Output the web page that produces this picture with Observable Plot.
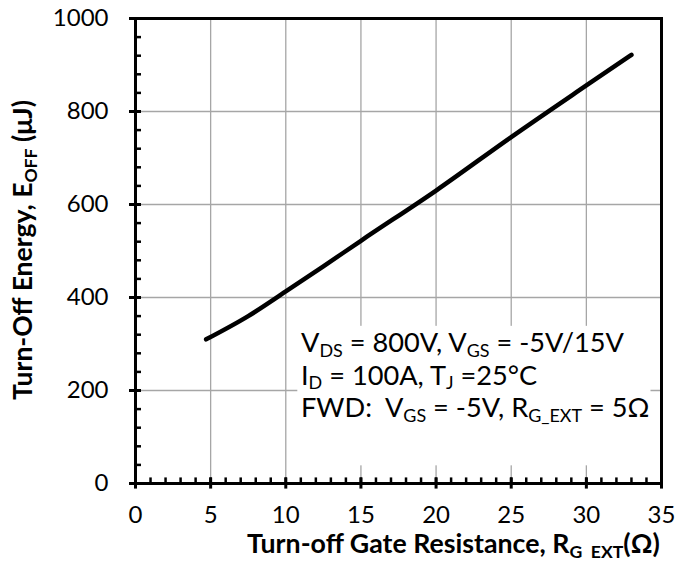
<!DOCTYPE html>
<html><head><meta charset="utf-8">
<script src="https://cdn.jsdelivr.net/npm/d3@7"></script>
<script src="https://cdn.jsdelivr.net/npm/@observablehq/plot@0.6"></script>
<style>
body{margin:0;background:#fff}
svg{font-family:Lato,"Open Sans",sans-serif}
</style>
</head><body><div id="chart"></div>
<script>
// Data
const rg = [4.7, 7.5, 10, 12.5, 15, 20, 25, 30, 33];
const eoff = [310, 360, 413, 467, 522, 630, 745, 856, 922];
const xTicks = [0, 5, 10, 15, 20, 25, 30, 35];
const yTicks = [0, 200, 400, 600, 800, 1000];
const xMinor = d3.range(0, 36, 1);
const yMinor = d3.range(0, 1001, 40);
const legendBox = [{x1: 10.8, x2: 34.3, y1: 38, y2: 338}];

const data = rg.map((r, i) => ({r, e: eoff[i]}));

const chart = Plot.plot({
  width: 694, height: 569,
  marginLeft: 135, marginRight: 33, marginTop: 18, marginBottom: 86,
  style: {fontFamily: "Lato, sans-serif", fontSize: "24px", color: "black", background: "white"},
  x: {domain: [0, 35]},
  y: {domain: [0, 1000]},
  marks: [
    Plot.ruleX(xTicks.slice(1, -1), {stroke: "#a6a6a6", strokeWidth: 1.3}),
    Plot.ruleY(yTicks.slice(1, -1), {stroke: "#a6a6a6", strokeWidth: 1.3}),
    Plot.rect(legendBox, {x1: "x1", x2: "x2", y1: "y1", y2: "y2", fill: "white"}),
    Plot.line(data, {x: "r", y: "e", curve: "monotone-x", stroke: "black", strokeWidth: 4.5, strokeLinecap: "round"}),
    Plot.ruleX(xMinor, {y1: 0, y2: 12, stroke: "black", strokeWidth: 2.5}),
    Plot.ruleY(yMinor, {x1: 0, x2: 0.4, stroke: "black", strokeWidth: 2.5}),
    Plot.ruleX(xTicks, {y1: -12, y2: 12, stroke: "black", strokeWidth: 3}),
    Plot.ruleY(yTicks, {x1: -0.4, x2: 0.4, stroke: "black", strokeWidth: 3}),
    Plot.frame({stroke: "black", strokeWidth: 3}),
    Plot.axisX(xTicks, {tickSize: 0, tickPadding: 22, label: null, fontSize: 24, tickFormat: d => String(d)}),
    Plot.axisY(yTicks, {tickSize: 0, tickPadding: 27, label: null, fontSize: 24, tickFormat: d => String(d)})
  ]
});
document.getElementById("chart").appendChild(chart);

const svg = d3.select(chart);

// Build a text with subscripts at font size F
function build(sel, parts, F) {
  sel.selectAll("tspan").remove();
  sel.attr("font-size", F);
  const S = F * 0.66, shift = F * 0.17;
  let sub = false;
  for (const p of parts) {
    const isSub = typeof p !== "string";
    const t = sel.append("tspan").text(isSub ? p.s : p);
    if (isSub) t.attr("font-size", S);
    if (isSub && !sub) t.attr("dy", shift);
    if (!isSub && sub) t.attr("dy", -shift);
    sub = isSub;
  }
}
function fit(sel, parts, target) {
  build(sel, parts, 20);
  const w = sel.node().getComputedTextLength();
  build(sel, parts, 20 * target / w);
}

// Annotation
const ann = svg.append("g").attr("fill", "black").attr("text-anchor", "start").style("white-space", "pre");
const lines = [
  [ "V", {s: "DS"}, " = 800V, V", {s: "GS"}, " = -5V/15V" ],
  [ "I", {s: "D"}, " = 100A, T", {s: "J"}, " =25°C" ],
  [ "FWD:  V", {s: "GS"}, " = -5V, R", {s: "G_EXT"}, " = 5Ω" ]
];
const ann0 = ann.append("text").attr("x", 301).attr("y", 352);
fit(ann0, lines[0], 323);
const annF = +ann0.attr("font-size");
lines.slice(1).forEach((ln, i) => {
  const t = ann.append("text").attr("x", 301).attr("y", 352 + (i + 1) * 32.5);
  build(t, ln, annF);
});

// Axis titles
const xt = svg.append("text").attr("x", 247).attr("y", 553).attr("text-anchor", "start")
  .attr("font-weight", "bold").attr("fill", "black").style("white-space", "pre");
fit(xt, ["Turn-off Gate Resistance, R", {s: "G  EXT"}, "(Ω)"], 413);
const yt = svg.append("text").attr("transform", "translate(32,250) rotate(-90)").attr("text-anchor", "middle")
  .attr("font-weight", "bold").attr("fill", "black").style("white-space", "pre");
fit(yt, ["Turn-Off Energy, E", {s: "OFF"}, " (μJ)"], 300);
</script>
</body></html>
